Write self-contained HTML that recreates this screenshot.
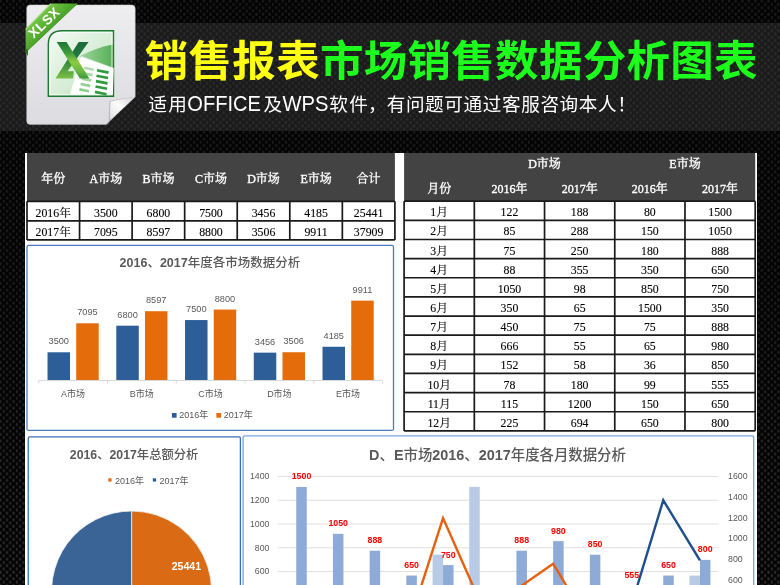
<!DOCTYPE html>
<html><head><meta charset="utf-8"><style>
html,body{margin:0;padding:0;background:#000;width:780px;height:585px;overflow:hidden}
svg{display:block}
</style></head><body>
<svg width="780" height="585" viewBox="0 0 780 585">
<defs>
<radialGradient id="dotg"><stop offset="0" stop-color="#ffffff" stop-opacity="1"/><stop offset="0.55" stop-color="#ffffff" stop-opacity="0.75"/><stop offset="1" stop-color="#ffffff" stop-opacity="0"/></radialGradient>
<pattern id="dots" width="6.565" height="6.565" patternUnits="userSpaceOnUse">
<ellipse cx="3.7" cy="4.4" rx="1.7" ry="2.3" fill="url(#dotg)"/>
<ellipse cx="0.42" cy="1.12" rx="1.7" ry="2.3" fill="url(#dotg)"/>
<ellipse cx="6.985" cy="1.12" rx="1.7" ry="2.3" fill="url(#dotg)"/>
<ellipse cx="0.42" cy="7.685" rx="1.7" ry="2.3" fill="url(#dotg)"/>
<ellipse cx="6.985" cy="7.685" rx="1.7" ry="2.3" fill="url(#dotg)"/>
</pattern>
<linearGradient id="bgfade" x1="0" y1="0" x2="0" y2="1">
<stop offset="0" stop-color="#ffffff" stop-opacity="0.11"/><stop offset="0.5" stop-color="#ffffff" stop-opacity="0.12"/><stop offset="1" stop-color="#ffffff" stop-opacity="0.19"/>
</linearGradient>
<mask id="bgmask" maskUnits="userSpaceOnUse" x="0" y="0" width="780" height="585"><rect width="780" height="585" fill="url(#bgfade)"/></mask>
<linearGradient id="gpage" x1="0" y1="0" x2="0" y2="1">
<stop offset="0" stop-color="#eeeef1"/><stop offset="1" stop-color="#dcdce0"/>
</linearGradient>
<linearGradient id="grib" gradientUnits="userSpaceOnUse" x1="38" y1="16" x2="52" y2="30">
<stop offset="0" stop-color="#74c548"/><stop offset="1" stop-color="#44a023"/>
</linearGradient>
<linearGradient id="gcurl" x1="1" y1="0" x2="0" y2="1">
<stop offset="0" stop-color="#d0d0d2"/><stop offset="0.5" stop-color="#fbfbfb"/><stop offset="1" stop-color="#e4e4e6"/>
</linearGradient>
<linearGradient id="gband" x1="0" y1="0" x2="1" y2="0">
<stop offset="0" stop-color="#9fd59f"/><stop offset="1" stop-color="#56b056"/>
</linearGradient>
<linearGradient id="glogo" x1="0" y1="0" x2="1" y2="1">
<stop offset="0" stop-color="#f4faf4"/><stop offset="0.6" stop-color="#d4ecd4"/><stop offset="1" stop-color="#b0dcb0"/>
</linearGradient>
<linearGradient id="gx1" x1="0" y1="0" x2="0" y2="1">
<stop offset="0" stop-color="#1d7636"/><stop offset="0.3" stop-color="#3f9a3c"/><stop offset="0.55" stop-color="#8ccb3e"/><stop offset="0.8" stop-color="#6ab843"/><stop offset="1" stop-color="#3c9a3a"/>
</linearGradient>
<linearGradient id="gx2" x1="0" y1="0" x2="0" y2="1">
<stop offset="0" stop-color="#1c6a3c"/><stop offset="0.45" stop-color="#237a3c"/><stop offset="1" stop-color="#7cc044"/>
</linearGradient>
</defs>
<rect width="780" height="585" fill="#030303"/>
<rect width="780" height="585" fill="url(#dots)" mask="url(#bgmask)"/>
<rect x="0" y="23" width="780" height="108" fill="#1a1a1a"/>
<rect x="0" y="23" width="780" height="108" fill="url(#dots)" opacity="0.085"/>
<g>
<path d="M30.2,4.9 H131.7 Q135.2,4.9 135.2,8.4 V96.7 L106.2,124.4 H30.2 Q26.7,124.4 26.7,120.9 V8.4 Q26.7,4.9 30.2,4.9 Z" fill="url(#gpage)" stroke="#bdbdc0" stroke-width="0.5"/>
<path d="M135.2,96.7 L106.2,124.4 L108.5,124.4 Q109,110 109.6,101 Q120,98.6 135.2,96.7 Z" fill="#9a9a9c" opacity="0.55"/>
<path d="M135.2,96.7 Q122,99 110.6,101.4 Q109.8,111 110.3,119.8 Z" fill="url(#gcurl)"/>
<path d="M62,30.7 H113.5 V96.3 H48.3 V44.4 Q48.3,30.7 62,30.7 Z" fill="url(#glogo)" stroke="#1b7a30" stroke-width="1.4"/>
<path d="M80,56 Q97,47.5 112.8,44.5 V69 L80,57 Z" fill="url(#gband)"/>
<path d="M62.6,32.4 H111.9 V94.6 H50 V44.6 Q50,32.4 62.6,32.4 Z" fill="none" stroke="#ffffff" stroke-opacity="0.8" stroke-width="0.9"/>
<path d="M81,56.3 L113.7,68.2 L112.8,94.6 L70,94.6 Z" fill="#ffffff"/>
<path d="M81,56.3 L113.7,68.2" stroke="#d8e8d8" stroke-width="0.6"/>
<path d="M84.5,66.5 l9.5,1.9 l-0.5,2.6 l-9.5,-1.9 Z" fill="#6cbf6c" opacity="0.55"/>
<path d="M97.2,69.0 l11.6,2.3 l-0.5,2.6 l-11.6,-2.3 Z" fill="#2f9a3f"/>
<path d="M83.3,71.9 l9.5,1.9 l-0.5,2.6 l-9.5,-1.9 Z" fill="#6cbf6c" opacity="0.61"/>
<path d="M96.7,74.4 l11.6,2.3 l-0.5,2.6 l-11.6,-2.3 Z" fill="#2f9a3f"/>
<path d="M82.1,77.3 l9.5,1.9 l-0.5,2.6 l-9.5,-1.9 Z" fill="#6cbf6c" opacity="0.67"/>
<path d="M96.2,79.8 l11.6,2.3 l-0.5,2.6 l-11.6,-2.3 Z" fill="#2f9a3f"/>
<path d="M80.9,82.7 l9.5,1.9 l-0.5,2.6 l-9.5,-1.9 Z" fill="#6cbf6c" opacity="0.73"/>
<path d="M95.7,85.2 l11.6,2.3 l-0.5,2.6 l-11.6,-2.3 Z" fill="#2f9a3f"/>
<path d="M79.7,88.1 l9.5,1.9 l-0.5,2.6 l-9.5,-1.9 Z" fill="#6cbf6c" opacity="0.79"/>
<path d="M95.2,90.6 l11.6,2.3 l-0.5,2.6 l-11.6,-2.3 Z" fill="#2f9a3f"/>
<path d="M78.7,41.9 H88.6 L67.6,71.3 H73.8 L73,78.5 H55.5 Z" fill="url(#gx2)"/>
<path d="M56.7,41.9 H66.5 L89.4,78.5 H79.9 Z" fill="url(#gx1)"/>
<path d="M25.6,29.4 L51,3.6 H77.4 L25.6,52.4 Z" fill="url(#grib)"/>
<path d="M25.6,29.4 L51,3.6" stroke="#a6dc7c" stroke-width="1.1"/>
<path d="M25.6,52.4 L77.4,3.6" stroke="#3c8a1c" stroke-width="0.8"/>
<path d="M25.6,49 L28,49 L28,56 L25.6,52.4 Z" fill="#2f7015"/>
<text x="0" y="0" font-size="13.5" font-weight="bold" fill="#ffffff" font-family="'Liberation Sans','Noto Sans CJK SC',sans-serif" text-anchor="middle" letter-spacing="0.6" transform="translate(47.4,25.8) rotate(-43.5)">XLSX</text>
</g>
<text x="144.8" y="0" transform="translate(0,76.3) scale(1,0.965)" font-size="43.5" font-weight="700" letter-spacing="0.3" font-family="'Noto Sans CJK SC',sans-serif"><tspan fill="#ffff12">销售报表</tspan><tspan fill="#1cff1c">市场销售数据分析图表</tspan></text>
<g fill="#ffffff">
<text x="148.5" y="110.6" font-size="18.6" font-family="'Noto Sans CJK SC',sans-serif" letter-spacing="1.2">适用</text>
<text x="187.3" y="111.0" font-size="22.2" font-family="'Liberation Sans',sans-serif" textLength="73.6" lengthAdjust="spacingAndGlyphs">OFFICE</text>
<text x="263.5" y="110.6" font-size="18.6" font-family="'Noto Sans CJK SC',sans-serif">及</text>
<text x="282.4" y="111.0" font-size="22.2" font-family="'Liberation Sans',sans-serif" textLength="46.0" lengthAdjust="spacingAndGlyphs">WPS</text>
<text x="329.3" y="110.6" font-size="18.6" font-family="'Noto Sans CJK SC',sans-serif" letter-spacing="1.3">软件</text>
<text x="368.1" y="110.6" font-size="18.6" font-family="'Noto Sans CJK SC',sans-serif">，</text>
<text x="386.7" y="110.6" font-size="18.6" font-family="'Noto Sans CJK SC',sans-serif" letter-spacing="0.62">有问题可通过客服咨询本人！</text>
</g>
<rect x="25" y="153" width="732" height="432" fill="#ffffff"/>
<rect x="27" y="153" width="367.90" height="48.3" fill="#434343"/>
<line x1="27" y1="201.3" x2="394.9" y2="201.3" stroke="#1a1a1a" stroke-width="1.7"/>
<line x1="27" y1="220.9" x2="394.9" y2="220.9" stroke="#1a1a1a" stroke-width="1.7"/>
<line x1="27" y1="239.9" x2="394.9" y2="239.9" stroke="#1a1a1a" stroke-width="1.7"/>
<line x1="27.00" y1="201.3" x2="27.00" y2="239.9" stroke="#1a1a1a" stroke-width="1.7"/>
<line x1="79.56" y1="201.3" x2="79.56" y2="239.9" stroke="#1a1a1a" stroke-width="1.7"/>
<line x1="132.11" y1="201.3" x2="132.11" y2="239.9" stroke="#1a1a1a" stroke-width="1.7"/>
<line x1="184.67" y1="201.3" x2="184.67" y2="239.9" stroke="#1a1a1a" stroke-width="1.7"/>
<line x1="237.23" y1="201.3" x2="237.23" y2="239.9" stroke="#1a1a1a" stroke-width="1.7"/>
<line x1="289.79" y1="201.3" x2="289.79" y2="239.9" stroke="#1a1a1a" stroke-width="1.7"/>
<line x1="342.34" y1="201.3" x2="342.34" y2="239.9" stroke="#1a1a1a" stroke-width="1.7"/>
<line x1="394.90" y1="201.3" x2="394.90" y2="239.9" stroke="#1a1a1a" stroke-width="1.7"/>
<text x="53.28" y="183.00" font-size="12" fill="#ffffff" text-anchor="middle" font-weight="normal" font-family="'Liberation Serif','Noto Serif CJK SC',serif" stroke="#ffffff" stroke-width="0.35">年份</text>
<text x="53.28" y="217.00" font-size="11.8" fill="#000" text-anchor="middle" font-weight="normal" font-family="'Liberation Serif','Noto Serif CJK SC',serif" stroke="#000" stroke-width="0.1">2016年</text>
<text x="53.28" y="236.30" font-size="11.8" fill="#000" text-anchor="middle" font-weight="normal" font-family="'Liberation Serif','Noto Serif CJK SC',serif" stroke="#000" stroke-width="0.1">2017年</text>
<text x="105.84" y="183.00" font-size="12" fill="#ffffff" text-anchor="middle" font-weight="normal" font-family="'Liberation Serif','Noto Serif CJK SC',serif" stroke="#ffffff" stroke-width="0.35">A市场</text>
<text x="105.84" y="217.00" font-size="11.8" fill="#000" text-anchor="middle" font-weight="normal" font-family="'Liberation Serif','Noto Serif CJK SC',serif" stroke="#000" stroke-width="0.1">3500</text>
<text x="105.84" y="236.30" font-size="11.8" fill="#000" text-anchor="middle" font-weight="normal" font-family="'Liberation Serif','Noto Serif CJK SC',serif" stroke="#000" stroke-width="0.1">7095</text>
<text x="158.39" y="183.00" font-size="12" fill="#ffffff" text-anchor="middle" font-weight="normal" font-family="'Liberation Serif','Noto Serif CJK SC',serif" stroke="#ffffff" stroke-width="0.35">B市场</text>
<text x="158.39" y="217.00" font-size="11.8" fill="#000" text-anchor="middle" font-weight="normal" font-family="'Liberation Serif','Noto Serif CJK SC',serif" stroke="#000" stroke-width="0.1">6800</text>
<text x="158.39" y="236.30" font-size="11.8" fill="#000" text-anchor="middle" font-weight="normal" font-family="'Liberation Serif','Noto Serif CJK SC',serif" stroke="#000" stroke-width="0.1">8597</text>
<text x="210.95" y="183.00" font-size="12" fill="#ffffff" text-anchor="middle" font-weight="normal" font-family="'Liberation Serif','Noto Serif CJK SC',serif" stroke="#ffffff" stroke-width="0.35">C市场</text>
<text x="210.95" y="217.00" font-size="11.8" fill="#000" text-anchor="middle" font-weight="normal" font-family="'Liberation Serif','Noto Serif CJK SC',serif" stroke="#000" stroke-width="0.1">7500</text>
<text x="210.95" y="236.30" font-size="11.8" fill="#000" text-anchor="middle" font-weight="normal" font-family="'Liberation Serif','Noto Serif CJK SC',serif" stroke="#000" stroke-width="0.1">8800</text>
<text x="263.51" y="183.00" font-size="12" fill="#ffffff" text-anchor="middle" font-weight="normal" font-family="'Liberation Serif','Noto Serif CJK SC',serif" stroke="#ffffff" stroke-width="0.35">D市场</text>
<text x="263.51" y="217.00" font-size="11.8" fill="#000" text-anchor="middle" font-weight="normal" font-family="'Liberation Serif','Noto Serif CJK SC',serif" stroke="#000" stroke-width="0.1">3456</text>
<text x="263.51" y="236.30" font-size="11.8" fill="#000" text-anchor="middle" font-weight="normal" font-family="'Liberation Serif','Noto Serif CJK SC',serif" stroke="#000" stroke-width="0.1">3506</text>
<text x="316.06" y="183.00" font-size="12" fill="#ffffff" text-anchor="middle" font-weight="normal" font-family="'Liberation Serif','Noto Serif CJK SC',serif" stroke="#ffffff" stroke-width="0.35">E市场</text>
<text x="316.06" y="217.00" font-size="11.8" fill="#000" text-anchor="middle" font-weight="normal" font-family="'Liberation Serif','Noto Serif CJK SC',serif" stroke="#000" stroke-width="0.1">4185</text>
<text x="316.06" y="236.30" font-size="11.8" fill="#000" text-anchor="middle" font-weight="normal" font-family="'Liberation Serif','Noto Serif CJK SC',serif" stroke="#000" stroke-width="0.1">9911</text>
<text x="368.62" y="183.00" font-size="12" fill="#ffffff" text-anchor="middle" font-weight="normal" font-family="'Liberation Serif','Noto Serif CJK SC',serif" stroke="#ffffff" stroke-width="0.35">合计</text>
<text x="368.62" y="217.00" font-size="11.8" fill="#000" text-anchor="middle" font-weight="normal" font-family="'Liberation Serif','Noto Serif CJK SC',serif" stroke="#000" stroke-width="0.1">25441</text>
<text x="368.62" y="236.30" font-size="11.8" fill="#000" text-anchor="middle" font-weight="normal" font-family="'Liberation Serif','Noto Serif CJK SC',serif" stroke="#000" stroke-width="0.1">37909</text>
<rect x="404.1" y="153" width="351.10" height="48.2" fill="#434343"/>
<line x1="404.1" y1="201.20" x2="755.2" y2="201.20" stroke="#1a1a1a" stroke-width="1.7"/>
<line x1="404.1" y1="220.34" x2="755.2" y2="220.34" stroke="#1a1a1a" stroke-width="1.7"/>
<line x1="404.1" y1="239.48" x2="755.2" y2="239.48" stroke="#1a1a1a" stroke-width="1.7"/>
<line x1="404.1" y1="258.62" x2="755.2" y2="258.62" stroke="#1a1a1a" stroke-width="1.7"/>
<line x1="404.1" y1="277.77" x2="755.2" y2="277.77" stroke="#1a1a1a" stroke-width="1.7"/>
<line x1="404.1" y1="296.91" x2="755.2" y2="296.91" stroke="#1a1a1a" stroke-width="1.7"/>
<line x1="404.1" y1="316.05" x2="755.2" y2="316.05" stroke="#1a1a1a" stroke-width="1.7"/>
<line x1="404.1" y1="335.19" x2="755.2" y2="335.19" stroke="#1a1a1a" stroke-width="1.7"/>
<line x1="404.1" y1="354.33" x2="755.2" y2="354.33" stroke="#1a1a1a" stroke-width="1.7"/>
<line x1="404.1" y1="373.47" x2="755.2" y2="373.47" stroke="#1a1a1a" stroke-width="1.7"/>
<line x1="404.1" y1="392.62" x2="755.2" y2="392.62" stroke="#1a1a1a" stroke-width="1.7"/>
<line x1="404.1" y1="411.76" x2="755.2" y2="411.76" stroke="#1a1a1a" stroke-width="1.7"/>
<line x1="404.1" y1="430.90" x2="755.2" y2="430.90" stroke="#1a1a1a" stroke-width="1.7"/>
<line x1="404.10" y1="201.2" x2="404.10" y2="430.9" stroke="#1a1a1a" stroke-width="1.7"/>
<line x1="474.32" y1="201.2" x2="474.32" y2="430.9" stroke="#1a1a1a" stroke-width="1.7"/>
<line x1="544.54" y1="201.2" x2="544.54" y2="430.9" stroke="#1a1a1a" stroke-width="1.7"/>
<line x1="614.76" y1="201.2" x2="614.76" y2="430.9" stroke="#1a1a1a" stroke-width="1.7"/>
<line x1="684.98" y1="201.2" x2="684.98" y2="430.9" stroke="#1a1a1a" stroke-width="1.7"/>
<line x1="755.20" y1="201.2" x2="755.20" y2="430.9" stroke="#1a1a1a" stroke-width="1.7"/>
<text x="544.54" y="167.80" font-size="12" fill="#ffffff" text-anchor="middle" font-weight="normal" font-family="'Liberation Serif','Noto Serif CJK SC',serif" stroke="#ffffff" stroke-width="0.35">D市场</text>
<text x="684.98" y="167.80" font-size="12" fill="#ffffff" text-anchor="middle" font-weight="normal" font-family="'Liberation Serif','Noto Serif CJK SC',serif" stroke="#ffffff" stroke-width="0.35">E市场</text>
<text x="439.21" y="192.60" font-size="12" fill="#ffffff" text-anchor="middle" font-weight="normal" font-family="'Liberation Serif','Noto Serif CJK SC',serif" stroke="#ffffff" stroke-width="0.35">月份</text>
<text x="509.43" y="192.60" font-size="12" fill="#ffffff" text-anchor="middle" font-weight="normal" font-family="'Liberation Serif','Noto Serif CJK SC',serif" stroke="#ffffff" stroke-width="0.35">2016年</text>
<text x="579.65" y="192.60" font-size="12" fill="#ffffff" text-anchor="middle" font-weight="normal" font-family="'Liberation Serif','Noto Serif CJK SC',serif" stroke="#ffffff" stroke-width="0.35">2017年</text>
<text x="649.87" y="192.60" font-size="12" fill="#ffffff" text-anchor="middle" font-weight="normal" font-family="'Liberation Serif','Noto Serif CJK SC',serif" stroke="#ffffff" stroke-width="0.35">2016年</text>
<text x="720.09" y="192.60" font-size="12" fill="#ffffff" text-anchor="middle" font-weight="normal" font-family="'Liberation Serif','Noto Serif CJK SC',serif" stroke="#ffffff" stroke-width="0.35">2017年</text>
<text x="439.21" y="216.27" font-size="11.8" fill="#000" text-anchor="middle" font-weight="normal" font-family="'Liberation Serif','Noto Serif CJK SC',serif" stroke="#000" stroke-width="0.1">1月</text>
<text x="509.43" y="216.27" font-size="11.8" fill="#000" text-anchor="middle" font-weight="normal" font-family="'Liberation Serif','Noto Serif CJK SC',serif" stroke="#000" stroke-width="0.1">122</text>
<text x="579.65" y="216.27" font-size="11.8" fill="#000" text-anchor="middle" font-weight="normal" font-family="'Liberation Serif','Noto Serif CJK SC',serif" stroke="#000" stroke-width="0.1">188</text>
<text x="649.87" y="216.27" font-size="11.8" fill="#000" text-anchor="middle" font-weight="normal" font-family="'Liberation Serif','Noto Serif CJK SC',serif" stroke="#000" stroke-width="0.1">80</text>
<text x="720.09" y="216.27" font-size="11.8" fill="#000" text-anchor="middle" font-weight="normal" font-family="'Liberation Serif','Noto Serif CJK SC',serif" stroke="#000" stroke-width="0.1">1500</text>
<text x="439.21" y="235.41" font-size="11.8" fill="#000" text-anchor="middle" font-weight="normal" font-family="'Liberation Serif','Noto Serif CJK SC',serif" stroke="#000" stroke-width="0.1">2月</text>
<text x="509.43" y="235.41" font-size="11.8" fill="#000" text-anchor="middle" font-weight="normal" font-family="'Liberation Serif','Noto Serif CJK SC',serif" stroke="#000" stroke-width="0.1">85</text>
<text x="579.65" y="235.41" font-size="11.8" fill="#000" text-anchor="middle" font-weight="normal" font-family="'Liberation Serif','Noto Serif CJK SC',serif" stroke="#000" stroke-width="0.1">288</text>
<text x="649.87" y="235.41" font-size="11.8" fill="#000" text-anchor="middle" font-weight="normal" font-family="'Liberation Serif','Noto Serif CJK SC',serif" stroke="#000" stroke-width="0.1">150</text>
<text x="720.09" y="235.41" font-size="11.8" fill="#000" text-anchor="middle" font-weight="normal" font-family="'Liberation Serif','Noto Serif CJK SC',serif" stroke="#000" stroke-width="0.1">1050</text>
<text x="439.21" y="254.55" font-size="11.8" fill="#000" text-anchor="middle" font-weight="normal" font-family="'Liberation Serif','Noto Serif CJK SC',serif" stroke="#000" stroke-width="0.1">3月</text>
<text x="509.43" y="254.55" font-size="11.8" fill="#000" text-anchor="middle" font-weight="normal" font-family="'Liberation Serif','Noto Serif CJK SC',serif" stroke="#000" stroke-width="0.1">75</text>
<text x="579.65" y="254.55" font-size="11.8" fill="#000" text-anchor="middle" font-weight="normal" font-family="'Liberation Serif','Noto Serif CJK SC',serif" stroke="#000" stroke-width="0.1">250</text>
<text x="649.87" y="254.55" font-size="11.8" fill="#000" text-anchor="middle" font-weight="normal" font-family="'Liberation Serif','Noto Serif CJK SC',serif" stroke="#000" stroke-width="0.1">180</text>
<text x="720.09" y="254.55" font-size="11.8" fill="#000" text-anchor="middle" font-weight="normal" font-family="'Liberation Serif','Noto Serif CJK SC',serif" stroke="#000" stroke-width="0.1">888</text>
<text x="439.21" y="273.70" font-size="11.8" fill="#000" text-anchor="middle" font-weight="normal" font-family="'Liberation Serif','Noto Serif CJK SC',serif" stroke="#000" stroke-width="0.1">4月</text>
<text x="509.43" y="273.70" font-size="11.8" fill="#000" text-anchor="middle" font-weight="normal" font-family="'Liberation Serif','Noto Serif CJK SC',serif" stroke="#000" stroke-width="0.1">88</text>
<text x="579.65" y="273.70" font-size="11.8" fill="#000" text-anchor="middle" font-weight="normal" font-family="'Liberation Serif','Noto Serif CJK SC',serif" stroke="#000" stroke-width="0.1">355</text>
<text x="649.87" y="273.70" font-size="11.8" fill="#000" text-anchor="middle" font-weight="normal" font-family="'Liberation Serif','Noto Serif CJK SC',serif" stroke="#000" stroke-width="0.1">350</text>
<text x="720.09" y="273.70" font-size="11.8" fill="#000" text-anchor="middle" font-weight="normal" font-family="'Liberation Serif','Noto Serif CJK SC',serif" stroke="#000" stroke-width="0.1">650</text>
<text x="439.21" y="292.84" font-size="11.8" fill="#000" text-anchor="middle" font-weight="normal" font-family="'Liberation Serif','Noto Serif CJK SC',serif" stroke="#000" stroke-width="0.1">5月</text>
<text x="509.43" y="292.84" font-size="11.8" fill="#000" text-anchor="middle" font-weight="normal" font-family="'Liberation Serif','Noto Serif CJK SC',serif" stroke="#000" stroke-width="0.1">1050</text>
<text x="579.65" y="292.84" font-size="11.8" fill="#000" text-anchor="middle" font-weight="normal" font-family="'Liberation Serif','Noto Serif CJK SC',serif" stroke="#000" stroke-width="0.1">98</text>
<text x="649.87" y="292.84" font-size="11.8" fill="#000" text-anchor="middle" font-weight="normal" font-family="'Liberation Serif','Noto Serif CJK SC',serif" stroke="#000" stroke-width="0.1">850</text>
<text x="720.09" y="292.84" font-size="11.8" fill="#000" text-anchor="middle" font-weight="normal" font-family="'Liberation Serif','Noto Serif CJK SC',serif" stroke="#000" stroke-width="0.1">750</text>
<text x="439.21" y="311.98" font-size="11.8" fill="#000" text-anchor="middle" font-weight="normal" font-family="'Liberation Serif','Noto Serif CJK SC',serif" stroke="#000" stroke-width="0.1">6月</text>
<text x="509.43" y="311.98" font-size="11.8" fill="#000" text-anchor="middle" font-weight="normal" font-family="'Liberation Serif','Noto Serif CJK SC',serif" stroke="#000" stroke-width="0.1">350</text>
<text x="579.65" y="311.98" font-size="11.8" fill="#000" text-anchor="middle" font-weight="normal" font-family="'Liberation Serif','Noto Serif CJK SC',serif" stroke="#000" stroke-width="0.1">65</text>
<text x="649.87" y="311.98" font-size="11.8" fill="#000" text-anchor="middle" font-weight="normal" font-family="'Liberation Serif','Noto Serif CJK SC',serif" stroke="#000" stroke-width="0.1">1500</text>
<text x="720.09" y="311.98" font-size="11.8" fill="#000" text-anchor="middle" font-weight="normal" font-family="'Liberation Serif','Noto Serif CJK SC',serif" stroke="#000" stroke-width="0.1">350</text>
<text x="439.21" y="331.12" font-size="11.8" fill="#000" text-anchor="middle" font-weight="normal" font-family="'Liberation Serif','Noto Serif CJK SC',serif" stroke="#000" stroke-width="0.1">7月</text>
<text x="509.43" y="331.12" font-size="11.8" fill="#000" text-anchor="middle" font-weight="normal" font-family="'Liberation Serif','Noto Serif CJK SC',serif" stroke="#000" stroke-width="0.1">450</text>
<text x="579.65" y="331.12" font-size="11.8" fill="#000" text-anchor="middle" font-weight="normal" font-family="'Liberation Serif','Noto Serif CJK SC',serif" stroke="#000" stroke-width="0.1">75</text>
<text x="649.87" y="331.12" font-size="11.8" fill="#000" text-anchor="middle" font-weight="normal" font-family="'Liberation Serif','Noto Serif CJK SC',serif" stroke="#000" stroke-width="0.1">75</text>
<text x="720.09" y="331.12" font-size="11.8" fill="#000" text-anchor="middle" font-weight="normal" font-family="'Liberation Serif','Noto Serif CJK SC',serif" stroke="#000" stroke-width="0.1">888</text>
<text x="439.21" y="350.26" font-size="11.8" fill="#000" text-anchor="middle" font-weight="normal" font-family="'Liberation Serif','Noto Serif CJK SC',serif" stroke="#000" stroke-width="0.1">8月</text>
<text x="509.43" y="350.26" font-size="11.8" fill="#000" text-anchor="middle" font-weight="normal" font-family="'Liberation Serif','Noto Serif CJK SC',serif" stroke="#000" stroke-width="0.1">666</text>
<text x="579.65" y="350.26" font-size="11.8" fill="#000" text-anchor="middle" font-weight="normal" font-family="'Liberation Serif','Noto Serif CJK SC',serif" stroke="#000" stroke-width="0.1">55</text>
<text x="649.87" y="350.26" font-size="11.8" fill="#000" text-anchor="middle" font-weight="normal" font-family="'Liberation Serif','Noto Serif CJK SC',serif" stroke="#000" stroke-width="0.1">65</text>
<text x="720.09" y="350.26" font-size="11.8" fill="#000" text-anchor="middle" font-weight="normal" font-family="'Liberation Serif','Noto Serif CJK SC',serif" stroke="#000" stroke-width="0.1">980</text>
<text x="439.21" y="369.40" font-size="11.8" fill="#000" text-anchor="middle" font-weight="normal" font-family="'Liberation Serif','Noto Serif CJK SC',serif" stroke="#000" stroke-width="0.1">9月</text>
<text x="509.43" y="369.40" font-size="11.8" fill="#000" text-anchor="middle" font-weight="normal" font-family="'Liberation Serif','Noto Serif CJK SC',serif" stroke="#000" stroke-width="0.1">152</text>
<text x="579.65" y="369.40" font-size="11.8" fill="#000" text-anchor="middle" font-weight="normal" font-family="'Liberation Serif','Noto Serif CJK SC',serif" stroke="#000" stroke-width="0.1">58</text>
<text x="649.87" y="369.40" font-size="11.8" fill="#000" text-anchor="middle" font-weight="normal" font-family="'Liberation Serif','Noto Serif CJK SC',serif" stroke="#000" stroke-width="0.1">36</text>
<text x="720.09" y="369.40" font-size="11.8" fill="#000" text-anchor="middle" font-weight="normal" font-family="'Liberation Serif','Noto Serif CJK SC',serif" stroke="#000" stroke-width="0.1">850</text>
<text x="439.21" y="388.55" font-size="11.8" fill="#000" text-anchor="middle" font-weight="normal" font-family="'Liberation Serif','Noto Serif CJK SC',serif" stroke="#000" stroke-width="0.1">10月</text>
<text x="509.43" y="388.55" font-size="11.8" fill="#000" text-anchor="middle" font-weight="normal" font-family="'Liberation Serif','Noto Serif CJK SC',serif" stroke="#000" stroke-width="0.1">78</text>
<text x="579.65" y="388.55" font-size="11.8" fill="#000" text-anchor="middle" font-weight="normal" font-family="'Liberation Serif','Noto Serif CJK SC',serif" stroke="#000" stroke-width="0.1">180</text>
<text x="649.87" y="388.55" font-size="11.8" fill="#000" text-anchor="middle" font-weight="normal" font-family="'Liberation Serif','Noto Serif CJK SC',serif" stroke="#000" stroke-width="0.1">99</text>
<text x="720.09" y="388.55" font-size="11.8" fill="#000" text-anchor="middle" font-weight="normal" font-family="'Liberation Serif','Noto Serif CJK SC',serif" stroke="#000" stroke-width="0.1">555</text>
<text x="439.21" y="407.69" font-size="11.8" fill="#000" text-anchor="middle" font-weight="normal" font-family="'Liberation Serif','Noto Serif CJK SC',serif" stroke="#000" stroke-width="0.1">11月</text>
<text x="509.43" y="407.69" font-size="11.8" fill="#000" text-anchor="middle" font-weight="normal" font-family="'Liberation Serif','Noto Serif CJK SC',serif" stroke="#000" stroke-width="0.1">115</text>
<text x="579.65" y="407.69" font-size="11.8" fill="#000" text-anchor="middle" font-weight="normal" font-family="'Liberation Serif','Noto Serif CJK SC',serif" stroke="#000" stroke-width="0.1">1200</text>
<text x="649.87" y="407.69" font-size="11.8" fill="#000" text-anchor="middle" font-weight="normal" font-family="'Liberation Serif','Noto Serif CJK SC',serif" stroke="#000" stroke-width="0.1">150</text>
<text x="720.09" y="407.69" font-size="11.8" fill="#000" text-anchor="middle" font-weight="normal" font-family="'Liberation Serif','Noto Serif CJK SC',serif" stroke="#000" stroke-width="0.1">650</text>
<text x="439.21" y="426.83" font-size="11.8" fill="#000" text-anchor="middle" font-weight="normal" font-family="'Liberation Serif','Noto Serif CJK SC',serif" stroke="#000" stroke-width="0.1">12月</text>
<text x="509.43" y="426.83" font-size="11.8" fill="#000" text-anchor="middle" font-weight="normal" font-family="'Liberation Serif','Noto Serif CJK SC',serif" stroke="#000" stroke-width="0.1">225</text>
<text x="579.65" y="426.83" font-size="11.8" fill="#000" text-anchor="middle" font-weight="normal" font-family="'Liberation Serif','Noto Serif CJK SC',serif" stroke="#000" stroke-width="0.1">694</text>
<text x="649.87" y="426.83" font-size="11.8" fill="#000" text-anchor="middle" font-weight="normal" font-family="'Liberation Serif','Noto Serif CJK SC',serif" stroke="#000" stroke-width="0.1">650</text>
<text x="720.09" y="426.83" font-size="11.8" fill="#000" text-anchor="middle" font-weight="normal" font-family="'Liberation Serif','Noto Serif CJK SC',serif" stroke="#000" stroke-width="0.1">800</text>
<rect x="27" y="245.4" width="366.5" height="185" rx="1.5" fill="#ffffff" stroke="#4a7cc4" stroke-width="1.3"/>
<text x="209.90" y="267.00" font-size="12.5" fill="#595959" text-anchor="middle"><tspan font-family="'Liberation Sans',sans-serif" font-weight="bold">2016</tspan><tspan font-family="'Noto Sans CJK SC',sans-serif" font-weight="500">、</tspan><tspan font-family="'Liberation Sans',sans-serif" font-weight="bold">2017</tspan><tspan font-family="'Noto Sans CJK SC',sans-serif" font-weight="500">年度各市场数据分析</tspan></text>
<rect x="47.52" y="352.29" width="22.5" height="28.21" fill="#2e5e98"/>
<text x="58.77" y="344.29" font-size="9.2" fill="#595959" text-anchor="middle" font-weight="normal" font-family="'Liberation Sans','Noto Sans CJK SC',sans-serif" >3500</text>
<rect x="76.22" y="323.31" width="22.5" height="57.19" fill="#e46c0a"/>
<text x="87.47" y="315.31" font-size="9.2" fill="#595959" text-anchor="middle" font-weight="normal" font-family="'Liberation Sans','Noto Sans CJK SC',sans-serif" >7095</text>
<text x="73.12" y="396.50" font-size="9" fill="#595959" text-anchor="middle" font-weight="normal" font-family="'Liberation Sans','Noto Sans CJK SC',sans-serif" >A市场</text>
<rect x="116.28" y="325.69" width="22.5" height="54.81" fill="#2e5e98"/>
<text x="127.53" y="317.69" font-size="9.2" fill="#595959" text-anchor="middle" font-weight="normal" font-family="'Liberation Sans','Noto Sans CJK SC',sans-serif" >6800</text>
<rect x="144.97" y="311.21" width="22.5" height="69.29" fill="#e46c0a"/>
<text x="156.22" y="303.21" font-size="9.2" fill="#595959" text-anchor="middle" font-weight="normal" font-family="'Liberation Sans','Noto Sans CJK SC',sans-serif" >8597</text>
<text x="141.88" y="396.50" font-size="9" fill="#595959" text-anchor="middle" font-weight="normal" font-family="'Liberation Sans','Noto Sans CJK SC',sans-serif" >B市场</text>
<rect x="185.03" y="320.05" width="22.5" height="60.45" fill="#2e5e98"/>
<text x="196.28" y="312.05" font-size="9.2" fill="#595959" text-anchor="middle" font-weight="normal" font-family="'Liberation Sans','Noto Sans CJK SC',sans-serif" >7500</text>
<rect x="213.72" y="309.57" width="22.5" height="70.93" fill="#e46c0a"/>
<text x="224.97" y="301.57" font-size="9.2" fill="#595959" text-anchor="middle" font-weight="normal" font-family="'Liberation Sans','Noto Sans CJK SC',sans-serif" >8800</text>
<text x="210.62" y="396.50" font-size="9" fill="#595959" text-anchor="middle" font-weight="normal" font-family="'Liberation Sans','Noto Sans CJK SC',sans-serif" >C市场</text>
<rect x="253.78" y="352.64" width="22.5" height="27.86" fill="#2e5e98"/>
<text x="265.02" y="344.64" font-size="9.2" fill="#595959" text-anchor="middle" font-weight="normal" font-family="'Liberation Sans','Noto Sans CJK SC',sans-serif" >3456</text>
<rect x="282.48" y="352.24" width="22.5" height="28.26" fill="#e46c0a"/>
<text x="293.73" y="344.24" font-size="9.2" fill="#595959" text-anchor="middle" font-weight="normal" font-family="'Liberation Sans','Noto Sans CJK SC',sans-serif" >3506</text>
<text x="279.38" y="396.50" font-size="9" fill="#595959" text-anchor="middle" font-weight="normal" font-family="'Liberation Sans','Noto Sans CJK SC',sans-serif" >D市场</text>
<rect x="322.52" y="346.77" width="22.5" height="33.73" fill="#2e5e98"/>
<text x="333.77" y="338.77" font-size="9.2" fill="#595959" text-anchor="middle" font-weight="normal" font-family="'Liberation Sans','Noto Sans CJK SC',sans-serif" >4185</text>
<rect x="351.23" y="300.62" width="22.5" height="79.88" fill="#e46c0a"/>
<text x="362.48" y="292.62" font-size="9.2" fill="#595959" text-anchor="middle" font-weight="normal" font-family="'Liberation Sans','Noto Sans CJK SC',sans-serif" >9911</text>
<text x="348.12" y="396.50" font-size="9" fill="#595959" text-anchor="middle" font-weight="normal" font-family="'Liberation Sans','Noto Sans CJK SC',sans-serif" >E市场</text>
<line x1="38.75" y1="380.5" x2="382.5" y2="380.5" stroke="#d9d9d9" stroke-width="1"/>
<line x1="38.75" y1="380.5" x2="38.75" y2="383.5" stroke="#d9d9d9" stroke-width="1"/>
<line x1="107.5" y1="380.5" x2="107.5" y2="383.5" stroke="#d9d9d9" stroke-width="1"/>
<line x1="176.25" y1="380.5" x2="176.25" y2="383.5" stroke="#d9d9d9" stroke-width="1"/>
<line x1="245.0" y1="380.5" x2="245.0" y2="383.5" stroke="#d9d9d9" stroke-width="1"/>
<line x1="313.75" y1="380.5" x2="313.75" y2="383.5" stroke="#d9d9d9" stroke-width="1"/>
<line x1="382.5" y1="380.5" x2="382.5" y2="383.5" stroke="#d9d9d9" stroke-width="1"/>
<rect x="171.9" y="413" width="4.7" height="4.7" fill="#2e5e98"/>
<text x="179.20" y="418.10" font-size="9" fill="#595959" text-anchor="start" font-weight="normal" font-family="'Liberation Sans','Noto Sans CJK SC',sans-serif" >2016年</text>
<rect x="216.4" y="413" width="4.7" height="4.7" fill="#e46c0a"/>
<text x="223.80" y="418.10" font-size="9" fill="#595959" text-anchor="start" font-weight="normal" font-family="'Liberation Sans','Noto Sans CJK SC',sans-serif" >2017年</text>
<rect x="28.25" y="436.9" width="212.15" height="160" rx="1.5" fill="#ffffff" stroke="#3a6fbe" stroke-width="1.3"/>
<text x="134.10" y="459.00" font-size="12.3" fill="#595959" text-anchor="middle"><tspan font-family="'Liberation Sans',sans-serif" font-weight="bold">2016</tspan><tspan font-family="'Noto Sans CJK SC',sans-serif" font-weight="500">、</tspan><tspan font-family="'Liberation Sans',sans-serif" font-weight="bold">2017</tspan><tspan font-family="'Noto Sans CJK SC',sans-serif" font-weight="500">年总额分析</tspan></text>
<rect x="108.3" y="478.3" width="3.3" height="3.3" fill="#e46c0a"/>
<text x="115.10" y="483.60" font-size="9" fill="#595959" text-anchor="start" font-weight="normal" font-family="'Liberation Sans','Noto Sans CJK SC',sans-serif" >2016年</text>
<rect x="152.8" y="478.3" width="3.3" height="3.3" fill="#2e5e98"/>
<text x="159.60" y="483.60" font-size="9" fill="#595959" text-anchor="start" font-weight="normal" font-family="'Liberation Sans','Noto Sans CJK SC',sans-serif" >2017年</text>
<path d="M131.6,591 L131.6,511 A80,80 0 0 1 177.97,656.19 Z" fill="#da6a13" stroke="#f4f4f8" stroke-width="0.8"/>
<path d="M131.6,591 L177.97,656.19 A80,80 0 1 1 131.6,511 Z" fill="#3a6496" stroke="#f4f4f8" stroke-width="0.8"/>
<text x="186.40" y="569.80" font-size="10.6" fill="#ffffff" text-anchor="middle" font-weight="bold" font-family="'Liberation Sans','Noto Sans CJK SC',sans-serif" >25441</text>
<rect x="243.1" y="435.9" width="510.6" height="160" rx="1.5" fill="#ffffff" stroke="#7aa5de" stroke-width="1.3"/>
<text x="497.50" y="459.60" font-size="14.4" fill="#595959" text-anchor="middle"><tspan font-family="'Liberation Sans',sans-serif" font-weight="bold">D</tspan><tspan font-family="'Noto Sans CJK SC',sans-serif" font-weight="500">、</tspan><tspan font-family="'Liberation Sans',sans-serif" font-weight="bold">E</tspan><tspan font-family="'Noto Sans CJK SC',sans-serif" font-weight="500">市场</tspan><tspan font-family="'Liberation Sans',sans-serif" font-weight="bold">2016</tspan><tspan font-family="'Noto Sans CJK SC',sans-serif" font-weight="500">、</tspan><tspan font-family="'Liberation Sans',sans-serif" font-weight="bold">2017</tspan><tspan font-family="'Noto Sans CJK SC',sans-serif" font-weight="500">年度各月数据分析</tspan></text>
<line x1="277.9" y1="619.00" x2="718.3" y2="619.00" stroke="#e0e0e0" stroke-width="1"/>
<text x="269.50" y="621.80" font-size="8.8" fill="#595959" text-anchor="end" font-weight="normal" font-family="'Liberation Sans','Noto Sans CJK SC',sans-serif" >200</text>
<line x1="277.9" y1="595.25" x2="718.3" y2="595.25" stroke="#e0e0e0" stroke-width="1"/>
<text x="269.50" y="598.05" font-size="8.8" fill="#595959" text-anchor="end" font-weight="normal" font-family="'Liberation Sans','Noto Sans CJK SC',sans-serif" >400</text>
<line x1="277.9" y1="571.50" x2="718.3" y2="571.50" stroke="#e0e0e0" stroke-width="1"/>
<text x="269.50" y="574.30" font-size="8.8" fill="#595959" text-anchor="end" font-weight="normal" font-family="'Liberation Sans','Noto Sans CJK SC',sans-serif" >600</text>
<line x1="277.9" y1="547.75" x2="718.3" y2="547.75" stroke="#e0e0e0" stroke-width="1"/>
<text x="269.50" y="550.55" font-size="8.8" fill="#595959" text-anchor="end" font-weight="normal" font-family="'Liberation Sans','Noto Sans CJK SC',sans-serif" >800</text>
<line x1="277.9" y1="524.00" x2="718.3" y2="524.00" stroke="#e0e0e0" stroke-width="1"/>
<text x="269.50" y="526.80" font-size="8.8" fill="#595959" text-anchor="end" font-weight="normal" font-family="'Liberation Sans','Noto Sans CJK SC',sans-serif" >1000</text>
<line x1="277.9" y1="500.25" x2="718.3" y2="500.25" stroke="#e0e0e0" stroke-width="1"/>
<text x="269.50" y="503.05" font-size="8.8" fill="#595959" text-anchor="end" font-weight="normal" font-family="'Liberation Sans','Noto Sans CJK SC',sans-serif" >1200</text>
<line x1="277.9" y1="476.50" x2="718.3" y2="476.50" stroke="#e0e0e0" stroke-width="1"/>
<text x="269.50" y="479.30" font-size="8.8" fill="#595959" text-anchor="end" font-weight="normal" font-family="'Liberation Sans','Noto Sans CJK SC',sans-serif" >1400</text>
<text x="728.00" y="624.85" font-size="8.8" fill="#595959" text-anchor="start" font-weight="normal" font-family="'Liberation Sans','Noto Sans CJK SC',sans-serif" >200</text>
<text x="728.00" y="604.00" font-size="8.8" fill="#595959" text-anchor="start" font-weight="normal" font-family="'Liberation Sans','Noto Sans CJK SC',sans-serif" >400</text>
<text x="728.00" y="583.15" font-size="8.8" fill="#595959" text-anchor="start" font-weight="normal" font-family="'Liberation Sans','Noto Sans CJK SC',sans-serif" >600</text>
<text x="728.00" y="562.30" font-size="8.8" fill="#595959" text-anchor="start" font-weight="normal" font-family="'Liberation Sans','Noto Sans CJK SC',sans-serif" >800</text>
<text x="728.00" y="541.45" font-size="8.8" fill="#595959" text-anchor="start" font-weight="normal" font-family="'Liberation Sans','Noto Sans CJK SC',sans-serif" >1000</text>
<text x="728.00" y="520.60" font-size="8.8" fill="#595959" text-anchor="start" font-weight="normal" font-family="'Liberation Sans','Noto Sans CJK SC',sans-serif" >1200</text>
<text x="728.00" y="499.75" font-size="8.8" fill="#595959" text-anchor="start" font-weight="normal" font-family="'Liberation Sans','Noto Sans CJK SC',sans-serif" >1400</text>
<text x="728.00" y="478.90" font-size="8.8" fill="#595959" text-anchor="start" font-weight="normal" font-family="'Liberation Sans','Noto Sans CJK SC',sans-serif" >1600</text>
<rect x="285.75" y="634.96" width="10.5" height="8.34" fill="#b7cbe6"/>
<rect x="296.25" y="486.92" width="10.5" height="156.38" fill="#8eaad6"/>
<text x="301.50" y="479.32" font-size="8.8" fill="#ff0000" text-anchor="middle" font-weight="bold" font-family="'Liberation Sans','Noto Sans CJK SC',sans-serif" >1500</text>
<rect x="322.45" y="627.66" width="10.5" height="15.64" fill="#b7cbe6"/>
<rect x="332.95" y="533.84" width="10.5" height="109.46" fill="#8eaad6"/>
<text x="338.20" y="526.24" font-size="8.8" fill="#ff0000" text-anchor="middle" font-weight="bold" font-family="'Liberation Sans','Noto Sans CJK SC',sans-serif" >1050</text>
<rect x="359.15" y="624.53" width="10.5" height="18.77" fill="#b7cbe6"/>
<rect x="369.65" y="550.73" width="10.5" height="92.57" fill="#8eaad6"/>
<text x="374.90" y="543.13" font-size="8.8" fill="#ff0000" text-anchor="middle" font-weight="bold" font-family="'Liberation Sans','Noto Sans CJK SC',sans-serif" >888</text>
<rect x="395.85" y="606.81" width="10.5" height="36.49" fill="#b7cbe6"/>
<rect x="406.35" y="575.54" width="10.5" height="67.76" fill="#8eaad6"/>
<text x="411.60" y="567.94" font-size="8.8" fill="#ff0000" text-anchor="middle" font-weight="bold" font-family="'Liberation Sans','Noto Sans CJK SC',sans-serif" >650</text>
<rect x="432.55" y="554.69" width="10.5" height="88.61" fill="#b7cbe6"/>
<rect x="443.05" y="565.11" width="10.5" height="78.19" fill="#8eaad6"/>
<text x="448.30" y="557.51" font-size="8.8" fill="#ff0000" text-anchor="middle" font-weight="bold" font-family="'Liberation Sans','Noto Sans CJK SC',sans-serif" >750</text>
<rect x="469.25" y="486.92" width="10.5" height="156.38" fill="#b7cbe6"/>
<rect x="479.75" y="606.81" width="10.5" height="36.49" fill="#8eaad6"/>
<text x="485.00" y="599.21" font-size="8.8" fill="#ff0000" text-anchor="middle" font-weight="bold" font-family="'Liberation Sans','Noto Sans CJK SC',sans-serif" >350</text>
<rect x="505.95" y="635.48" width="10.5" height="7.82" fill="#b7cbe6"/>
<rect x="516.45" y="550.73" width="10.5" height="92.57" fill="#8eaad6"/>
<text x="521.70" y="543.13" font-size="8.8" fill="#ff0000" text-anchor="middle" font-weight="bold" font-family="'Liberation Sans','Noto Sans CJK SC',sans-serif" >888</text>
<rect x="542.65" y="636.52" width="10.5" height="6.78" fill="#b7cbe6"/>
<rect x="553.15" y="541.13" width="10.5" height="102.16" fill="#8eaad6"/>
<text x="558.40" y="533.53" font-size="8.8" fill="#ff0000" text-anchor="middle" font-weight="bold" font-family="'Liberation Sans','Noto Sans CJK SC',sans-serif" >980</text>
<rect x="579.35" y="639.55" width="10.5" height="3.75" fill="#b7cbe6"/>
<rect x="589.85" y="554.69" width="10.5" height="88.61" fill="#8eaad6"/>
<text x="595.10" y="547.09" font-size="8.8" fill="#ff0000" text-anchor="middle" font-weight="bold" font-family="'Liberation Sans','Noto Sans CJK SC',sans-serif" >850</text>
<rect x="616.05" y="632.98" width="10.5" height="10.32" fill="#b7cbe6"/>
<rect x="626.55" y="585.44" width="10.5" height="57.86" fill="#8eaad6"/>
<text x="631.80" y="577.84" font-size="8.8" fill="#ff0000" text-anchor="middle" font-weight="bold" font-family="'Liberation Sans','Noto Sans CJK SC',sans-serif" >555</text>
<rect x="652.75" y="627.66" width="10.5" height="15.64" fill="#b7cbe6"/>
<rect x="663.25" y="575.54" width="10.5" height="67.76" fill="#8eaad6"/>
<text x="668.50" y="567.94" font-size="8.8" fill="#ff0000" text-anchor="middle" font-weight="bold" font-family="'Liberation Sans','Noto Sans CJK SC',sans-serif" >650</text>
<rect x="689.45" y="575.54" width="10.5" height="67.76" fill="#b7cbe6"/>
<rect x="699.95" y="559.90" width="10.5" height="83.40" fill="#8eaad6"/>
<text x="705.20" y="552.30" font-size="8.8" fill="#ff0000" text-anchor="middle" font-weight="bold" font-family="'Liberation Sans','Noto Sans CJK SC',sans-serif" >800</text>
<polyline points="296.25,628.26 332.95,632.66 369.65,633.84 406.35,632.30 443.05,518.06 479.75,601.19 516.45,589.31 553.15,563.66 589.85,624.70 626.55,633.49 663.25,629.09 699.95,616.03" fill="none" stroke="#e6600d" stroke-width="2.4" stroke-linejoin="miter"/>
<polyline points="296.25,620.42 332.95,608.55 369.65,613.06 406.35,600.59 443.05,631.11 479.75,635.03 516.45,633.84 553.15,636.22 589.85,635.86 626.55,621.38 663.25,500.25 699.95,560.34" fill="none" stroke="#1f4e8c" stroke-width="2.4" stroke-linejoin="miter"/>
</svg>
</body></html>
